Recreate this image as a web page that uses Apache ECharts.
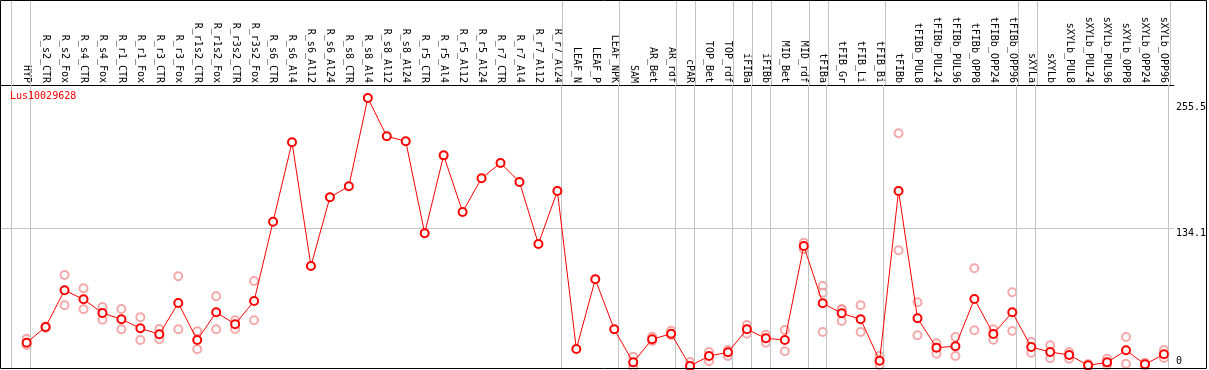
<!DOCTYPE html>
<html><head><meta charset="utf-8">
<script src="https://cdn.jsdelivr.net/npm/echarts@6/dist/echarts.min.js"></script>
<style>html,body{margin:0;padding:0;background:#fff}#c{width:1209px;height:370px}</style>
</head><body><div id="c"></div><script>
const categories = ['HYP','R_s2_CTR','R_s2_Fox','R_s4_CTR','R_s4_Fox','R_r1_CTR','R_r1_Fox','R_r3_CTR','R_r3_Fox','R_r1s2_CTR','R_r1s2_Fox','R_r3s2_CTR','R_r3s2_Fox','R_s6_CTR','R_s6_Al4','R_s6_Al12','R_s6_Al24','R_s8_CTR','R_s8_Al4','R_s8_Al12','R_s8_Al24','R_r5_CTR','R_r5_Al4','R_r5_Al12','R_r5_Al24','R_r7_CTR','R_r7_Al4','R_r7_Al12','R_r7_Al24','LEAF_N','LEAF_P','LEAF_NPK','SAM','AR_Bet','AR_rdf','cPAR','TOP_Bet','TOP_rdf','iFIBa','iFIBb','MID_Bet','MID_rdf','tFIBa','tFIB_Gr','tFIB_Li','tFIB_Bi','tFIBb','tFIBb_PUL8','tFIBb_PUL24','tFIBb_PUL96','tFIBb_OPP8','tFIBb_OPP24','tFIBb_OPP96','sXYLa','sXYLb','sXYLb_PUL8','sXYLb_PUL24','sXYLb_PUL96','sXYLb_OPP8','sXYLb_OPP24','sXYLb_OPP96'];
const means = [23.3,38.5,73.9,65.2,52.0,45.9,37.2,31.4,61.6,25.9,52.7,41.1,63.6,140.2,216.9,97.4,163.8,174.4,259.7,222.7,217.9,129.0,204.3,149.6,182.1,196.9,178.6,118.7,169.9,17.2,84.5,36.2,4.3,26.6,32.0,0.8,10.4,14.0,36.2,27.5,25.9,116.7,61.4,51.7,45.9,5.9,169.9,46.9,18.5,19.8,65.5,31.7,52.7,19.1,14.3,11.4,1.4,4.3,15.9,2.4,12.1];
const rep1 = [27.1,39,88.7,75.8,57.8,55.8,47.8,36.5,87.4,34.3,68.1,44.9,82.9,null,null,null,null,null,null,null,null,null,null,null,null,null,null,null,null,null,null,null,9.8,29.1,34.9,4.6,14.3,16.2,40.4,31.0,35.6,119.9,78.1,55.8,59.4,10.4,225.6,62.3,22.7,28.8,95.2,36.2,72.0,24.0,20.8,14.3,2.7,7.8,28.8,4.0,16.2];
const rep2 = [21,37.5,59.4,55.6,45.5,36.2,25.9,26.6,36.2,16.9,36.2,36.5,44.9,null,null,null,null,null,null,null,null,null,null,null,null,null,null,null,null,null,null,null,0.1,24.9,30.4,0,5.3,10.4,32.0,23.3,15.0,113.5,33.6,44.3,33.6,1.7,112.6,30.4,12.7,10.4,35.3,26.2,34.6,13.6,8.2,7.8,0.3,1.7,3.0,0.8,8.5];
const rep3 = {42: 71.6, 43: 55.0};
const groupEnds = [-1,0,28,31,34,35,37,38,39,41,42,45,52,53,60];
const yTicksTop = [134.1, 255.5];
const yTicksBottom = [0];
const geneName = 'Lus10029628';

const font = 'DejaVu Sans Mono';
const mainData = means.map((v, i) => [i, v]);
const repData = [];
rep1.forEach((v, i) => { if (v != null) repData.push([i, v]); });
rep2.forEach((v, i) => { if (v != null) repData.push([i, v]); });
Object.keys(rep3).forEach(k => repData.push([+k, rep3[k]]));

const X_MIN = -1.3526, X_MAX = 60.526;
const sepLine = {color: '#c4c4c4', width: 1, type: 'solid'};
const sepData = groupEnds.map(g => ({xAxis: g + 0.21}));

const chart = echarts.init(document.getElementById('c'), null, {renderer: 'canvas'});
const yCommon = {type: 'value', min: -2.13, max: 272.27, position: 'right', gridIndex: 0,
  axisLine: {show: false}, axisTick: {show: false}, splitLine: {show: false}};
chart.setOption({
  animation: false,
  title: {text: geneName, left: 10, top: 91, padding: 0,
    textStyle: {color: '#ff0000', fontSize: 10, fontWeight: 'normal', fontFamily: font}},
  grid: [
    {left: 1, top: 85, width: 1175.7, height: 284, containLabel: false},
    {left: 1, top: 0, width: 1175.7, height: 85, containLabel: false}
  ],
  xAxis: [
    {type: 'value', gridIndex: 0, min: X_MIN, max: X_MAX, position: 'top',
      axisLine: {show: true, onZero: false, lineStyle: {color: '#000', width: 1}},
      axisTick: {show: false}, splitLine: {show: false},
      axisLabel: {customValues: categories.map((c, i) => i), rotate: 90, margin: 2,
        color: '#000', fontSize: 10, fontFamily: font,
        formatter: v => categories[Math.round(v)]}},
    {type: 'value', gridIndex: 1, min: X_MIN, max: X_MAX, show: false}
  ],
  yAxis: [
    Object.assign({}, yCommon, {axisLabel: {customValues: yTicksTop, margin: 2, verticalAlign: 'top',
      color: '#000', fontSize: 10, fontFamily: font, formatter: v => String(v)}}),
    Object.assign({}, yCommon, {axisLabel: {customValues: yTicksBottom, margin: 2, verticalAlign: 'bottom',
      color: '#000', fontSize: 10, fontFamily: font, formatter: v => String(v)}}),
    {type: 'value', gridIndex: 1, min: 0, max: 1, show: false}
  ],
  graphic: [{type: 'rect', silent: true, z: 100,
    shape: {x: 0.5, y: 0.5, width: 1206, height: 368},
    style: {fill: 'none', stroke: '#000', lineWidth: 1}}],
  series: [
    {type: 'scatter', name: 'sep-top', xAxisIndex: 1, yAxisIndex: 2, data: [], z: 1,
      markLine: {silent: true, symbol: 'none', label: {show: false}, lineStyle: sepLine, data: sepData}},
    {type: 'scatter', name: 'reps', xAxisIndex: 0, yAxisIndex: 0, data: repData,
      symbol: 'emptyCircle', symbolSize: 8, z: 3,
      itemStyle: {color: '#f09494', borderColor: '#f09494', borderWidth: 1.3},
      markLine: {silent: true, symbol: 'none', label: {show: false}, lineStyle: sepLine,
        data: sepData.concat([{yAxis: 134.1}])}},
    {type: 'line', name: 'mean', xAxisIndex: 0, yAxisIndex: 0, data: mainData,
      symbol: 'emptyCircle', symbolSize: 8, z: 5, showAllSymbol: true,
      lineStyle: {color: '#ff0000', width: 1},
      itemStyle: {color: '#ff0000', borderColor: '#ff0000', borderWidth: 1.5}}
  ]
});
</script></body></html>
